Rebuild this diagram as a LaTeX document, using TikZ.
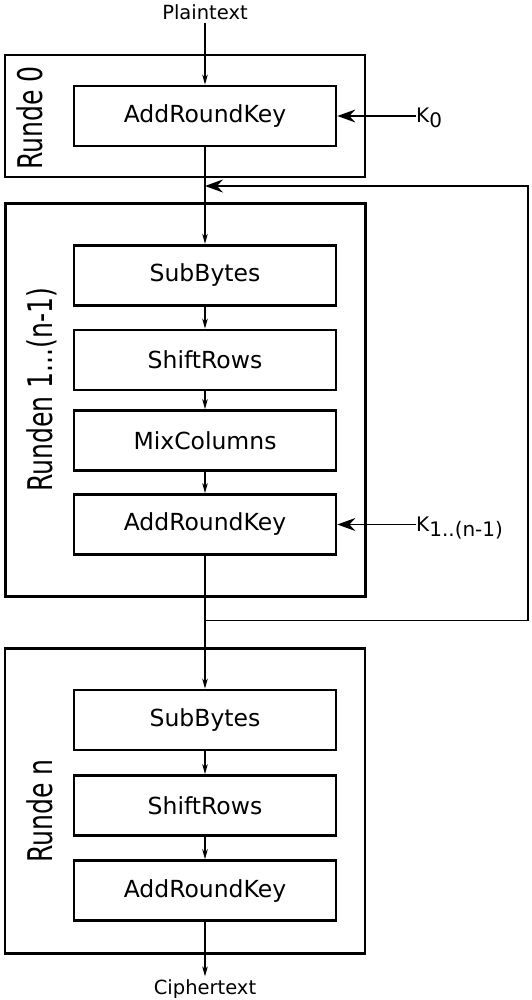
\documentclass[tikz,border=0pt]{standalone}
\usepackage{fontspec}
\setmainfont{DejaVu Sans}
\usetikzlibrary{arrows.meta}
\begin{document}
\begin{tikzpicture}[x=1pt,y=-1pt,
  op/.style={draw, line width=2.8pt, minimum width=262pt, minimum height=60pt, inner sep=0pt, font=\fontsize{23.5}{28}\selectfont},
  rnd/.style={draw, inner sep=0pt},
  rlabel/.style={rotate=90, xscale=0.74, anchor=base, inner sep=0pt, font=\fontsize{34}{40}\selectfont},
  io/.style={font=\fontsize{19.5}{23}\selectfont, inner sep=3pt},
  klabel/.style={font=\fontsize{20}{24}\selectfont, inner sep=0pt, anchor=base west},
  flow/.style={line width=1.2pt, -{Stealth[length=10pt,width=5.5pt,inset=3pt]}},
  keyarr/.style={line width=1.2pt, -{Stealth[length=18pt,width=13pt,inset=6pt]}},
  plain/.style={line width=1.2pt}]
\useasboundingbox (0,0) rectangle (531,1000);
% round frames
\node[rnd, line width=1.7pt, minimum width=360pt, minimum height=122pt] (r0) at (185,116) {};
\node[rnd, line width=3pt, minimum width=360pt, minimum height=392pt] (r1) at (185,400) {};
\node[rnd, line width=2.4pt, minimum width=360pt, minimum height=305pt] (rn) at (185,801) {};
% round labels
\node[rlabel] (l0) at (42.3,118) {Runde 0};
\node[rlabel] (l1) at (52.5,389.7) {Runden 1...(n-1)};
\node[rlabel] (ln) at (52.5,811) {Runde n};
% operations
\node[op] (a0) at (205,116) {AddRoundKey};
\node[op] (s1) at (205,275.2) {SubBytes};
\node[op] (h1) at (205,360) {ShiftRows};
\node[op] (m1) at (205,440.5) {MixColumns};
\node[op] (a1) at (205,524.5) {AddRoundKey};
\node[op] (sn) at (205,720) {SubBytes};
\node[op] (hn) at (205,805.5) {ShiftRows};
\node[op] (an) at (205,890.6) {AddRoundKey};
% inputs/outputs
\node[io] (pt) at (205,12.2) {Plaintext};
\node[io] (ct) at (205,989) {Ciphertext};
\node[klabel] (k0) at (416,123) {K\raisebox{-5pt}{0}};
\node[klabel] (k1) at (416,531) {K\raisebox{-5pt}{1..(n-1)}};
% loop coordinates
\coordinate (j1) at (205,620.5);
\coordinate (c1) at (528,620.5);
\coordinate (c2) at (528,186);
\coordinate (j0) at (205,186);
% connectors
\draw[flow] (pt.south) -- (a0.north);
\draw[flow] (a0.south) -- (s1.north);
\draw[flow] (s1.south) -- (h1.north);
\draw[flow] (h1.south) -- (m1.north);
\draw[flow] (m1.south) -- (a1.north);
\draw[flow] (a1.south) -- (sn.north);
\draw[flow] (sn.south) -- (hn.north);
\draw[flow] (hn.south) -- (an.north);
\draw[flow] (an.south) -- (ct.north);
\draw[keyarr] (j1) -- (c1) -- (c2) -- (j0);
\draw[keyarr] (k0.west |- a0.east) -- (a0.east);
\draw[keyarr] (k1.west |- a1.east) -- (a1.east);
\end{tikzpicture}
\end{document}
